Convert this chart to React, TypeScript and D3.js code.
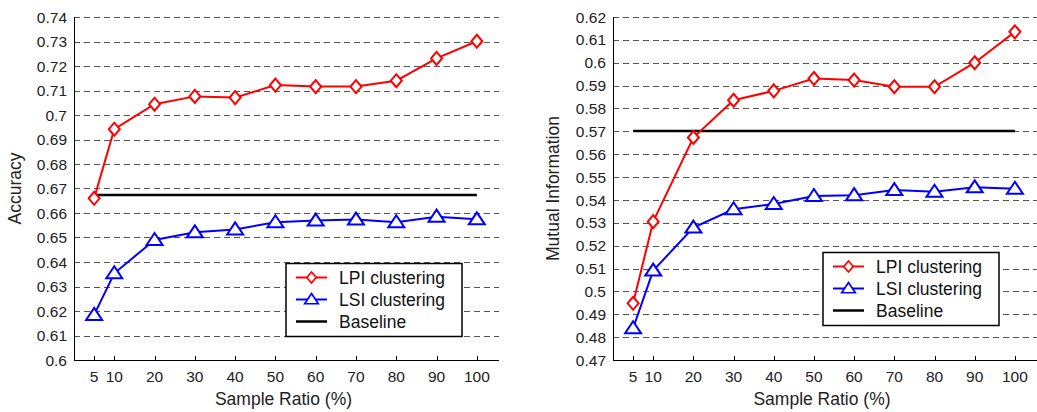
import React, { useRef, useEffect } from "react";
import * as d3 from "d3";

const ratios = [5, 10, 20, 30, 40, 50, 60, 70, 80, 90, 100];

const accLpi = [0.666, 0.6942, 0.7044, 0.7076, 0.7071, 0.7122, 0.7116, 0.7116, 0.714, 0.7231, 0.7301];
const accLsi = [0.6184, 0.6354, 0.649, 0.6521, 0.6533, 0.6562, 0.6569, 0.6573, 0.6562, 0.6585, 0.6574];
const accBaseline = 0.6673;

const miLpi = [0.4948, 0.5305, 0.5673, 0.5836, 0.5877, 0.5931, 0.5924, 0.5895, 0.5895, 0.6, 0.6135];
const miLsi = [0.4839, 0.5091, 0.5279, 0.5359, 0.5382, 0.5417, 0.5421, 0.5443, 0.5436, 0.5455, 0.5449];
const miBaseline = 0.5701;

const legendLabels = ["LPI clustering", "LSI clustering", "Baseline"];

const FONT = '"Liberation Sans", Arial, Helvetica, sans-serif';
const RED = "#ff0000";
const BLUE = "#0000ff";

type ChartCfg = {
  left: number;
  right: number;
  top: number;
  bottom: number;
  yMin: number;
  yMax: number;
  yLabel: string;
  yLabelX: number;
  lpi: number[];
  lsi: number[];
  baseline: number;
  legend: { x: number; y: number; w: number; h: number };
};

const drawChart = (root: d3.Selection<SVGGElement, unknown, null, undefined>, cfg: ChartCfg) => {
  const g = root.append("g");

  const x = d3.scaleLinear().domain([0, 105.5]).range([cfg.left, cfg.right]);
  const y = d3.scaleLinear().domain([cfg.yMin, cfg.yMax]).range([cfg.bottom, cfg.top]);

  const n = Math.round((cfg.yMax - cfg.yMin) * 100);
  const yTicks = d3.range(n + 1).map((i) => +(cfg.yMin + i * 0.01).toFixed(2));

  // dashed grid
  g.selectAll(".grid")
    .data(yTicks.filter((t) => t > cfg.yMin + 1e-9))
    .enter()
    .append("line")
    .attr("x1", cfg.left)
    .attr("x2", cfg.right)
    .attr("y1", (d) => Math.round(y(d)) + 0.5)
    .attr("y2", (d) => Math.round(y(d)) + 0.5)
    .attr("stroke", "#555")
    .attr("stroke-width", 1)
    .attr("stroke-dasharray", "6,4");

  // axes lines
  g.append("line")
    .attr("x1", cfg.left + 0.5)
    .attr("x2", cfg.left + 0.5)
    .attr("y1", cfg.top)
    .attr("y2", cfg.bottom + 0.5)
    .attr("stroke", "#000");
  g.append("line")
    .attr("x1", cfg.left)
    .attr("x2", cfg.right)
    .attr("y1", cfg.bottom + 0.5)
    .attr("y2", cfg.bottom + 0.5)
    .attr("stroke", "#000");

  // x ticks (inward)
  g.selectAll(".xtick")
    .data(ratios)
    .enter()
    .append("line")
    .attr("x1", (d) => Math.round(x(d)) + 0.5)
    .attr("x2", (d) => Math.round(x(d)) + 0.5)
    .attr("y1", cfg.bottom)
    .attr("y2", cfg.bottom - 4)
    .attr("stroke", "#000");

  g.selectAll(".xlab")
    .data(ratios)
    .enter()
    .append("text")
    .attr("x", (d) => x(d))
    .attr("y", 382)
    .attr("text-anchor", "middle")
    .style("font-family", FONT)
    .style("font-size", "15.5px")
    .attr("fill", "#222")
    .text((d) => d);

  g.selectAll(".ylab")
    .data(yTicks)
    .enter()
    .append("text")
    .attr("x", cfg.left - 7)
    .attr("y", (d) => y(d))
    .attr("dy", "0.36em")
    .attr("text-anchor", "end")
    .style("font-family", FONT)
    .style("font-size", "15.5px")
    .attr("fill", "#222")
    .text((d) => String(d));

  g.append("text")
    .attr("x", (cfg.left + cfg.right) / 2 - 3)
    .attr("y", 405)
    .attr("text-anchor", "middle")
    .style("font-family", FONT)
    .style("font-size", "17.5px")
    .attr("fill", "#222")
    .text("Sample Ratio (%)");

  g.append("text")
    .attr("transform", `translate(${cfg.yLabelX},${(cfg.top + cfg.bottom) / 2}) rotate(-90)`)
    .attr("dy", "0.36em")
    .attr("text-anchor", "middle")
    .style("font-family", FONT)
    .style("font-size", "17.5px")
    .attr("fill", "#222")
    .text(cfg.yLabel);

  // baseline
  g.append("line")
    .attr("x1", x(5))
    .attr("x2", x(100))
    .attr("y1", y(cfg.baseline))
    .attr("y2", y(cfg.baseline))
    .attr("stroke", "#000")
    .attr("stroke-width", 2.5);

  const line = d3
    .line<number>()
    .x((_, i) => x(ratios[i]))
    .y((d) => y(d));

  const diamond = "M0,-6.5L5.5,0L0,6.5L-5.5,0Z";
  const triangle = "M0,-7L8,5L-8,5Z";

  const series = [
    { data: cfg.lpi, color: RED, marker: diamond },
    { data: cfg.lsi, color: BLUE, marker: triangle },
  ];

  series.forEach((s) => {
    g.append("path")
      .attr("d", line(s.data))
      .attr("fill", "none")
      .attr("stroke", s.color)
      .attr("stroke-width", 2);
    g.selectAll(null)
      .data(s.data)
      .enter()
      .append("path")
      .attr("d", s.marker)
      .attr("transform", (d, i) => `translate(${x(ratios[i])},${y(d)})`)
      .attr("fill", "#fff")
      .attr("stroke", s.color)
      .attr("stroke-width", 2);
  });

  // legend
  const L = cfg.legend;
  const lg = g.append("g").attr("transform", `translate(${L.x},${L.y})`);
  lg.append("rect")
    .attr("width", L.w)
    .attr("height", L.h)
    .attr("fill", "#fff")
    .attr("stroke", "#000")
    .attr("stroke-width", 1.5);

  const items = [
    { color: RED, marker: diamond },
    { color: BLUE, marker: triangle },
    { color: "#000", marker: null as string | null },
  ];
  items.forEach((it, i) => {
    const cy = 14 + i * 22;
    lg.append("line")
      .attr("x1", 10)
      .attr("x2", 41)
      .attr("y1", cy)
      .attr("y2", cy)
      .attr("stroke", it.color)
      .attr("stroke-width", i === 2 ? 2.5 : 2);
    if (it.marker) {
      lg.append("path")
        .attr("d", it.marker)
        .attr("transform", `translate(25.5,${cy}) scale(0.85)`)
        .attr("fill", "#fff")
        .attr("stroke", it.color)
        .attr("stroke-width", 2);
    }
    lg.append("text")
      .attr("x", 53)
      .attr("y", cy)
      .attr("dy", "0.36em")
      .style("font-family", FONT)
      .style("font-size", "17.5px")
      .attr("fill", "#111")
      .text(legendLabels[i]);
  });
};

const App = () => {
  const ref = useRef<SVGSVGElement>(null);

  useEffect(() => {
    const svg = d3.select(ref.current);
    svg.selectAll("*").remove();
    const root = svg.append("g");

    drawChart(root as any, {
      left: 74,
      right: 499,
      top: 17,
      bottom: 360,
      yMin: 0.6,
      yMax: 0.74,
      yLabel: "Accuracy",
      yLabelX: 15,
      lpi: accLpi,
      lsi: accLsi,
      baseline: accBaseline,
      legend: { x: 286, y: 263.5, w: 176, h: 73 },
    });

    drawChart(root as any, {
      left: 613,
      right: 1037,
      top: 17,
      bottom: 360,
      yMin: 0.47,
      yMax: 0.62,
      yLabel: "Mutual Information",
      yLabelX: 553,
      lpi: miLpi,
      lsi: miLsi,
      baseline: miBaseline,
      legend: { x: 823, y: 252.5, w: 176, h: 73 },
    });

    return () => {
      svg.selectAll("*").remove();
    };
  }, []);

  return (
    <div style={{ position: "absolute", left: 0, top: 0 }}>
      <svg ref={ref} width={1037} height={412} style={{ display: "block", background: "#fff" }} />
    </div>
  );
};

export default App;
